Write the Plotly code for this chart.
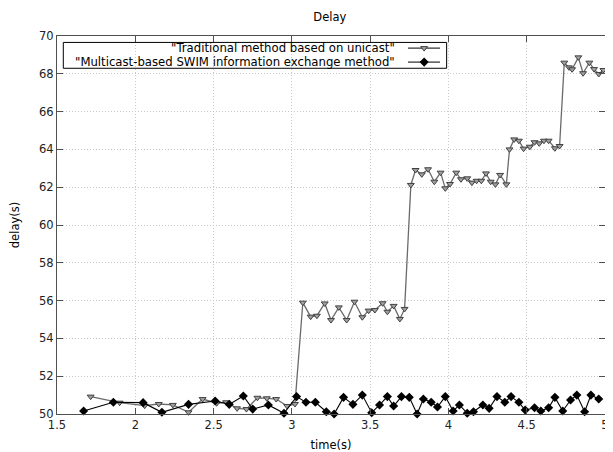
import plotly.graph_objects as go

trad_t = [1.715, 1.90, 2.06, 2.15, 2.24, 2.34, 2.43, 2.52, 2.58, 2.65, 2.71, 2.78, 2.84, 2.90, 2.97, 3.02,
          3.07, 3.12, 3.16, 3.21, 3.25, 3.30, 3.35, 3.40, 3.45, 3.49, 3.53, 3.58, 3.61, 3.65, 3.69, 3.72,
          3.76, 3.79, 3.83, 3.87, 3.91, 3.95, 3.98, 4.01, 4.05, 4.08, 4.12, 4.15, 4.18, 4.21, 4.24, 4.27, 4.30, 4.33, 4.37,
          4.39, 4.42, 4.45, 4.48, 4.52, 4.55, 4.58, 4.61, 4.64, 4.68, 4.71,
          4.74, 4.77, 4.79, 4.83, 4.86, 4.90, 4.93, 4.96, 4.99]
trad_v = [50.92, 50.6, 50.44, 50.53, 50.48, 50.09, 50.79, 50.57, 50.62, 50.3, 50.26, 50.86, 50.83, 50.79, 50.42, 50.53,
          55.89, 55.15, 55.2, 55.85, 54.97, 55.64, 54.97, 55.94, 55.12, 55.47, 55.5, 55.86, 55.41, 55.72, 55.03, 55.56,
          62.12, 62.91, 62.68, 62.95, 62.29, 62.77, 61.94, 62.17, 62.77, 62.42, 62.47, 62.24, 62.34, 62.34, 62.73, 62.29, 62.15, 62.65, 62.15,
          64.0, 64.53, 64.46, 64.04, 64.14, 64.38, 64.32, 64.46, 64.46, 64.06, 64.18,
          68.59, 68.34, 68.24, 68.87, 68.03, 68.59, 68.25, 67.99, 68.2]

mc_t = [1.67, 1.86, 2.05, 2.17, 2.34, 2.51, 2.60, 2.69, 2.75, 2.85, 2.95, 3.03, 3.09, 3.15, 3.22, 3.27, 3.33,
        3.39, 3.45, 3.51, 3.56, 3.61, 3.65, 3.70, 3.75, 3.80, 3.84, 3.89, 3.93, 3.98, 4.03, 4.07, 4.12, 4.16,
        4.22, 4.26, 4.31, 4.36, 4.40, 4.45, 4.49, 4.55, 4.59, 4.64, 4.68, 4.73, 4.78, 4.82, 4.87, 4.91, 4.96]
mc_v = [50.16, 50.62, 50.6, 50.09, 50.51, 50.69, 50.51, 50.95, 50.26, 50.48, 50.04, 50.92, 50.62, 50.62, 50.12, 50.0, 50.88,
        50.51, 51.0, 50.07, 50.48, 50.92, 50.42, 50.92, 50.88, 50.0, 50.79, 50.62, 50.37, 50.92, 50.16, 50.48, 50.04, 50.12,
        50.48, 50.3, 50.92, 50.62, 50.92, 50.62, 50.21, 50.33, 50.16, 50.33, 50.88, 50.16, 50.74, 51.0, 50.12, 51.0, 50.79]

names = ['"Traditional method based on unicast"', '"Multicast-based SWIM information exchange method"']
x_ticks = [1.5, 2, 2.5, 3, 3.5, 4, 4.5, 5]
x_tick_labels = ["1.5", "2", "2.5", "3", "3.5", "4", "4.5", "5"]
y_ticks = [50, 52, 54, 56, 58, 60, 62, 64, 66, 68, 70]

FONT = "DejaVu Sans"
trad_line = "#6a6a6a"
trad_fill = "#a0a0a0"
trad_edge = "#404040"

fig = go.Figure()
fig.add_trace(go.Scatter(
    x=trad_t, y=trad_v, mode="lines+markers", name=names[0], cliponaxis=False,
    line=dict(color=trad_line, width=1.3),
    marker=dict(symbol="triangle-down", size=6, color=trad_fill, line=dict(color=trad_edge, width=1)),
    showlegend=False))
fig.add_trace(go.Scatter(
    x=mc_t, y=mc_v, mode="lines+markers", name=names[1], cliponaxis=False,
    line=dict(color="#000000", width=1.1),
    marker=dict(symbol="diamond", size=7, color="#000000"),
    showlegend=False))

# custom gnuplot-style legend (text right, sample on the right)
leg_y = [0.968, 0.931]
fig.add_trace(go.Scatter(x=[0.6405, 0.699], y=[leg_y[0]] * 2, xaxis="x2", yaxis="y2", mode="lines",
                         line=dict(color="#000000", width=1), showlegend=False, hoverinfo="skip"))
fig.add_trace(go.Scatter(x=[0.67], y=[leg_y[0]], xaxis="x2", yaxis="y2", mode="markers",
                         marker=dict(symbol="triangle-down", size=6, color=trad_fill,
                                     line=dict(color=trad_edge, width=1)),
                         showlegend=False, hoverinfo="skip"))
fig.add_trace(go.Scatter(x=[0.6405, 0.699], y=[leg_y[1]] * 2, xaxis="x2", yaxis="y2", mode="lines",
                         line=dict(color="#000000", width=1), showlegend=False, hoverinfo="skip"))
fig.add_trace(go.Scatter(x=[0.67], y=[leg_y[1]], xaxis="x2", yaxis="y2", mode="markers",
                         marker=dict(symbol="diamond", size=7, color="#000000"),
                         showlegend=False, hoverinfo="skip"))

annotations = []
for nm, yy in zip(names, leg_y):
    annotations.append(dict(text=nm, x=0.620, y=yy, xref="paper", yref="paper",
                            xanchor="right", yanchor="middle", showarrow=False,
                            font=dict(family=FONT, size=11.7, color="#000000")))

shapes = [dict(type="rect", xref="paper", yref="paper", x0=0.0115, x1=0.711, y0=0.9146, y1=0.983,
               line=dict(color="#000000", width=1), fillcolor="rgba(0,0,0,0)")]

axis_common = dict(
    showline=True, linecolor="#505050", linewidth=1, mirror="ticks",
    ticks="inside", ticklen=6, tickcolor="#505050", tickwidth=1,
    showgrid=True, gridcolor="#c8c8c8", gridwidth=1, griddash="1px,2px",
    zeroline=False, automargin=False,
    tickfont=dict(family=FONT, size=11.5, color="#222222"),
)

fig.update_layout(
    width=605, height=444,
    margin=dict(l=49, r=8, t=28, b=38),
    paper_bgcolor="white", plot_bgcolor="white",
    font=dict(family=FONT, size=11.5, color="#000000"),
    title=dict(text="Delay", x=0.532, xanchor="center", y=0.98, yanchor="middle",
               font=dict(family=FONT, size=11.5, color="#000000")),
    xaxis=dict(range=[1.5, 5], tickvals=x_ticks, ticktext=x_tick_labels,
               title=dict(text="time(s)", standoff=12, font=dict(family=FONT, size=11.5)), **axis_common),
    yaxis=dict(range=[50, 70], tickvals=y_ticks,
               title=dict(text="delay(s)", standoff=22, font=dict(family=FONT, size=11.5)), **axis_common),
    xaxis2=dict(overlaying="x", range=[0, 1], visible=False, fixedrange=True),
    yaxis2=dict(overlaying="y", range=[0, 1], visible=False, fixedrange=True),
    annotations=annotations, shapes=shapes,
    showlegend=False,
)

fig.write_html("out.html")
